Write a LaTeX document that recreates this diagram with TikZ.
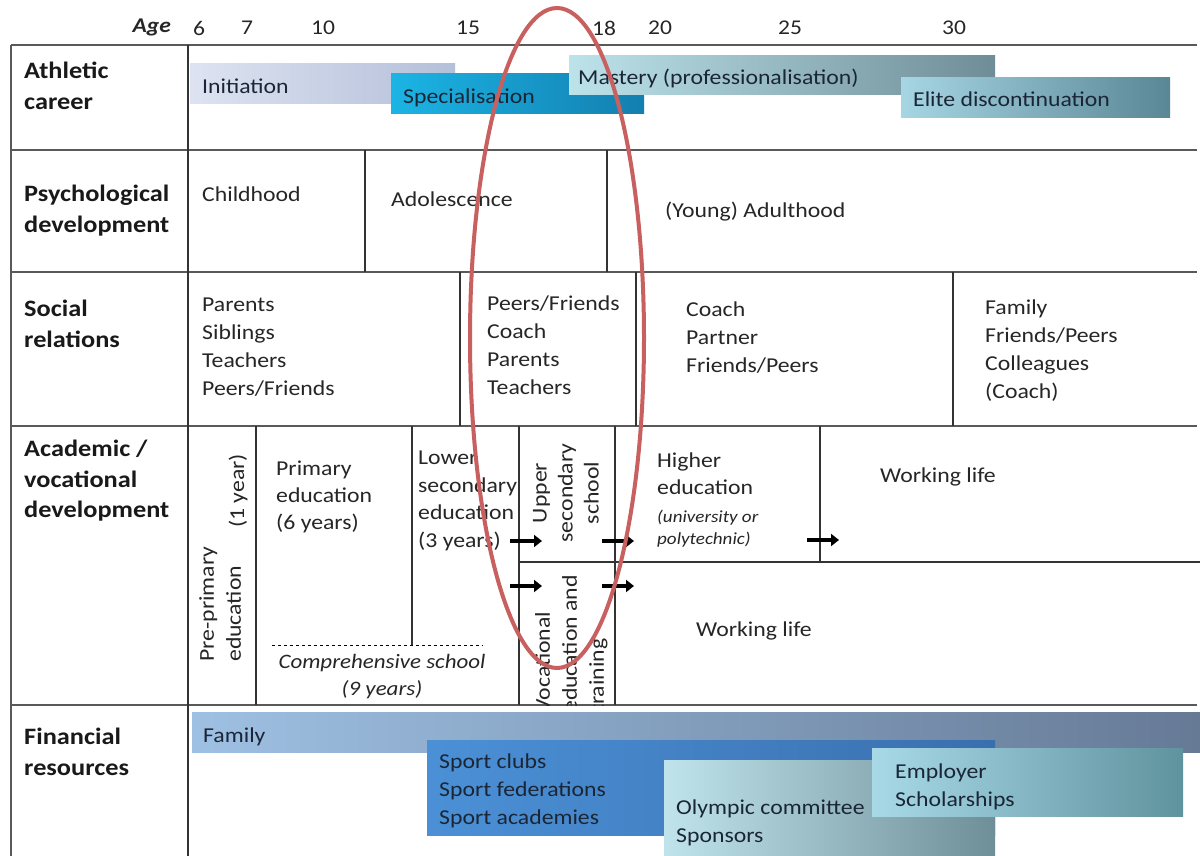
\documentclass[tikz,border=0pt]{standalone}
\usepackage{fontspec}
\setmainfont{Carlito}[FakeStretch=1.12]
\usetikzlibrary{arrows.meta}
\definecolor{ellred}{HTML}{C8605F}
\definecolor{initL}{HTML}{DDE3F1}
\definecolor{initR}{HTML}{B4BFD9}
\definecolor{specL}{HTML}{1BB4E4}
\definecolor{specR}{HTML}{137FB0}
\definecolor{mastL}{HTML}{BDE3EA}
\definecolor{mastR}{HTML}{6F8D97}
\definecolor{eliteL}{HTML}{A6D5E4}
\definecolor{eliteR}{HTML}{5A8795}
\definecolor{famL}{HTML}{9EC0E2}
\definecolor{famM}{HTML}{7F9EC4}
\definecolor{famR}{HTML}{667A96}
\definecolor{clubL}{HTML}{4B90D6}
\definecolor{clubR}{HTML}{3A6FAE}
\definecolor{olyL}{HTML}{C0E4EC}
\definecolor{olyR}{HTML}{6F8F98}
\definecolor{empL}{HTML}{A8D9E7}
\definecolor{empR}{HTML}{5F939E}
\definecolor{bartext}{HTML}{1A2636}
\begin{document}
\begin{tikzpicture}[x=1pt,y=-1pt,
  grid/.style={draw=black!80, line width=1.2pt},
  hline/.style={draw=black!65, line width=2pt},
  lab/.style={font=\fontsize{23.5}{30.5}\selectfont\bfseries, anchor=north west, align=left, inner sep=0pt, text=black!90},
  txt/.style={font=\fontsize{21.2}{28}\selectfont, anchor=north west, align=left, inner sep=0pt, text=black!85},
  bartxt/.style={font=\fontsize{21.2}{28}\selectfont, anchor=north west, align=left, inner sep=0pt, text=bartext},
  agenum/.style={font=\fontsize{21}{26}\selectfont, inner sep=0pt, text=black!85},
  arr/.style={line width=4pt, -{Triangle[length=8pt,width=12pt]}},
]
\fill[white] (0,0) rectangle (1200,856);
\useasboundingbox (0,0) rectangle (1200,856);

% ---- bars: athletic career
\shade[left color=initL, right color=initR] (190,64) rectangle (455,104);
\shade[left color=specL, right color=specR] (391,74) rectangle (644,114);
\shade[left color=mastL, right color=mastR] (569,56) rectangle (995,95);
\shade[left color=eliteL, right color=eliteR] (901,78) rectangle (1170,118);

% ---- bars: financial
\shade[left color=famL, middle color=famM, right color=famR] (192,712) rectangle (1200,752);
\shade[left color=clubL, right color=clubR] (427,740) rectangle (995,835);
\shade[left color=olyL, right color=olyR] (664,760) rectangle (995,856);
\shade[left color=empL, right color=empR] (872,748) rectangle (1183,816);

% ---- grid
\foreach \yy in {45,150,272,426,705} \draw[hline] (11,\yy) -- (1197,\yy);
\draw[hline] (11,45) -- (11,856);
\draw[grid] (188,45) -- (188,856);
\draw[grid] (365,150) -- (365,272);
\draw[grid] (607,150) -- (607,272);
\draw[grid] (460,272) -- (460,426);
\draw[grid] (636,272) -- (636,426);
\draw[grid] (953,272) -- (953,426);
\draw[grid] (256,426) -- (256,705);
\draw[grid] (412,426) -- (412,645);
\draw[grid] (519,426) -- (519,705);
\draw[grid] (615,426) -- (615,705);
\draw[grid] (519,562) -- (1200,562);
\draw[grid] (820,426) -- (820,562);
\draw[dashed, line width=1pt] (272,645) -- (483,645);

% ---- age header
\node[agenum, font=\fontsize{21}{26}\selectfont\bfseries\itshape, anchor=east] (agelab) at (171,27) {Age};
\node[agenum] (a6) at (199,28) {6};
\node[agenum] (a7) at (247,28) {7};
\node[agenum] (a10) at (323,28) {10};
\node[agenum] (a15) at (468,28) {15};
\node[agenum] (a18) at (604,28) {18};
\node[agenum] (a20) at (660,28) {20};
\node[agenum] (a25) at (790,28) {25};
\node[agenum] (a30) at (954,28) {30};

% ---- row labels
\node[lab] (lathl) at (24,62) {Athletic\\career};
\node[lab] (lpsy) at (24,185) {Psychological\\development};
\node[lab] (lsoc) at (24,300) {Social\\relations};
\node[lab] (lacad) at (24,440) {Academic /\\vocational\\development};
\node[lab] (lfin) at (24,728) {Financial\\resources};

% ---- athletic texts
\node[bartxt] (tinit) at (202,79) {Initiation};
\node[bartxt] (tspec) at (403,89) {Specialisation};
\node[bartxt] (tmast) at (578,69) {Mastery (professionalisation)};
\node[bartxt] (telite) at (913,92) {Elite discontinuation};

% ---- psychological
\node[txt] (child) at (202,187) {Childhood};
\node[txt] (adol) at (391,192) {Adolescence};
\node[txt] (adult) at (665,202) {(Young) Adulthood};

% ---- social
\node[txt] (soc1) at (202,298) {Parents\\Siblings\\Teachers\\Peers/Friends};
\node[txt] (soc2) at (487,296) {Peers/Friends\\Coach\\Parents\\Teachers};
\node[txt] (soc3) at (686,302) {Coach\\Partner\\Friends/Peers};
\node[txt] (soc4) at (985,300) {Family\\Friends/Peers\\Colleagues\\(Coach)};

% ---- academic
\node[txt, rotate=90, font=\fontsize{21.2}{27}\selectfont] (prep) at (199,662) {Pre-primary\\education};
\node[txt, rotate=90, anchor=center] (prepy) at (238,491) {(1 year)};
\node[txt, font=\fontsize{21.2}{27}\selectfont] (prim) at (276,461) {Primary\\education\\(6 years)};
\node[txt, font=\fontsize{21.2}{27.5}\selectfont] (lowsec) at (418,451) {Lower\\secondary\\education\\(3 years)};
\node[txt, anchor=north, align=center, font=\fontsize{20.5}{27}\selectfont\itshape] (compr) at (382,654) {Comprehensive school\\(9 years)};
\node[txt, rotate=90, anchor=center, align=center, font=\fontsize{21.2}{26}\selectfont] (upsec) at (566,493) {Upper\\secondary\\school};
\begin{scope}
\clip (519,562) rectangle (615,705);
\node[txt, rotate=90, font=\fontsize{21.2}{27}\selectfont] (voc) at (535,713) {Vocational\\education and\\training};
\end{scope}
\node[txt, font=\fontsize{21.2}{27}\selectfont] (hied) at (657,453) {Higher\\education};
\node[txt, font=\fontsize{17}{22}\selectfont\itshape] (hied2) at (657,510) {(university or\\polytechnic)};
\node[txt] (work1) at (880,468) {Working life};
\node[txt] (work2) at (696,622) {Working life};

% ---- arrows
\coordinate (a1s) at (510,541); \coordinate (a1e) at (542,541);
\coordinate (a2s) at (602,541); \coordinate (a2e) at (634,541);
\coordinate (a3s) at (510,586); \coordinate (a3e) at (542,586);
\coordinate (a4s) at (602,586); \coordinate (a4e) at (634,586);
\coordinate (a5s) at (807,540); \coordinate (a5e) at (839,540);
\draw[arr] (a1s) -- (a1e);
\draw[arr] (a2s) -- (a2e);
\draw[arr] (a3s) -- (a3e);
\draw[arr] (a4s) -- (a4e);
\draw[arr] (a5s) -- (a5e);

% ---- financial texts
\node[bartxt] (tfam) at (203,728) {Family};
\node[bartxt] (tclub) at (439,754) {Sport clubs\\Sport federations\\Sport academies};
\node[bartxt] (toly) at (676,800) {Olympic committee\\Sponsors};
\node[bartxt] (temp) at (895,764) {Employer\\Scholarships};

% ---- red ellipse
\draw[ellred, line width=4pt] (557,338) ellipse [x radius=87, y radius=330];
\end{tikzpicture}
\end{document}
